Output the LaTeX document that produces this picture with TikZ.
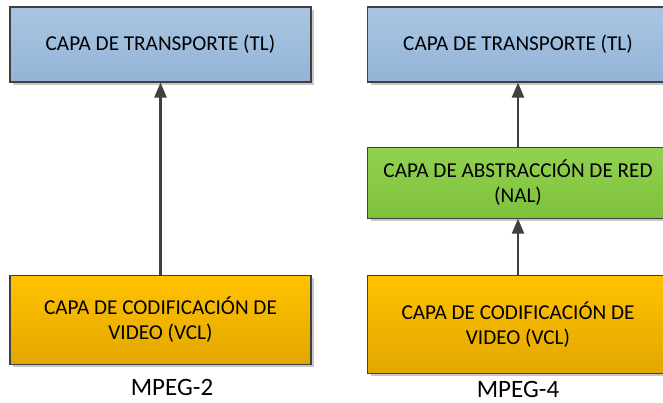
\documentclass[tikz,border=0pt]{standalone}
\usepackage{fontspec}
\setmainfont{Carlito}
\usetikzlibrary{positioning, arrows.meta, shadows}
\definecolor{tlTop}{HTML}{AAC5E2}
\definecolor{tlBot}{HTML}{93B4D7}
\definecolor{nalTop}{HTML}{93D152}
\definecolor{nalBot}{HTML}{7DC13B}
\definecolor{vclTop}{HTML}{FFC200}
\definecolor{vclBot}{HTML}{E2A700}
\definecolor{edgeGray}{HTML}{404040}
\tikzset{
  >={Triangle[width=12pt,length=15pt]},
  x=1pt, y=-1pt,
  node distance=64pt,
  layer/.style={rectangle, draw=edgeGray, line width=1.1pt, align=center,
    minimum width=301pt, inner sep=0pt,
    font=\fontsize{21.2}{25}\selectfont,
    drop shadow={shadow xshift=3pt, shadow yshift=-3pt, fill=black!22, opacity=1}},
  tl/.style={layer, top color=tlTop, bottom color=tlBot, minimum height=75pt},
  nal/.style={layer, top color=nalTop, bottom color=nalBot, minimum height=71pt},
  vcl/.style={layer, top color=vclTop, bottom color=vclBot},
  link/.style={->, draw=edgeGray, line width=2.2pt},
  caption/.style={font=\fontsize{25}{29}\selectfont},
}

\begin{document}
\begin{tikzpicture}
        \useasboundingbox (0,0) rectangle (663,402);
        % MPEG-2
        \node[tl] (tlA) at (160.5,44.5) {CAPA DE TRANSPORTE (TL)};
        \node[vcl, minimum height=89pt, below=192pt of tlA] (vclA)
              {CAPA DE CODIFICACIÓN DE\\VIDEO (VCL)};
        \node[caption] (mpegA) at (172,387) {MPEG-2};

        % MPEG-4
        \node[tl] (tlB) at (518,44.5) {CAPA DE TRANSPORTE (TL)};
        \node[nal, below=64pt of tlB] (nalB) {CAPA DE ABSTRACCIÓN DE RED\\(NAL)};
        \node[vcl, minimum height=98pt, below=56pt of nalB] (vclB)
              {CAPA DE CODIFICACIÓN DE\\VIDEO (VCL)};
        \node[caption] (mpegB) at (518,389) {MPEG-4};

        % links
        \draw[link] (vclA) -- (tlA);
        \draw[link] (vclB) -- (nalB);
        \draw[link] (nalB) -- (tlB);
      \end{tikzpicture}
\end{document}
